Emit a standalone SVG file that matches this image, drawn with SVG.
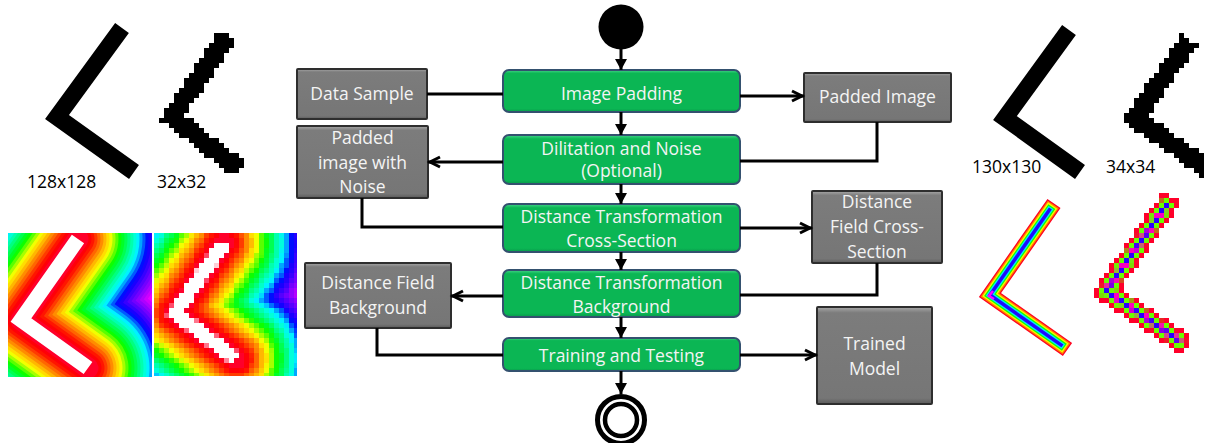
<svg xmlns="http://www.w3.org/2000/svg" xmlns:xlink="http://www.w3.org/1999/xlink" width="1206" height="443" viewBox="0 0 1206 443">
<style>
.lbl{font-family:"Open Sans","Liberation Sans",sans-serif;font-size:17.5px;fill:#000}
.ntxt{font-family:"Open Sans","Liberation Sans",sans-serif;font-size:17.5px;fill:#f4f4f4;text-anchor:middle}
.act{fill:url(#gGreen);stroke:#34516f;stroke-width:2}
.obj{fill:url(#gGray);stroke:#2e2e2e;stroke-width:2}
.conn path{fill:none;stroke:#000;stroke-width:3}
.band{fill:none;stroke-linecap:round;stroke-linejoin:round}
.core{fill:none;stroke-linecap:butt;stroke-linejoin:miter;stroke-miterlimit:10}
</style>
<defs>
  <linearGradient id="gGreen" x1="0" y1="0" x2="0" y2="1">
    <stop offset="0" stop-color="#45d68a"/>
    <stop offset="0.08" stop-color="#0bb654"/>
    <stop offset="0.92" stop-color="#0bb654"/>
    <stop offset="1" stop-color="#07984a"/>
  </linearGradient>
  <linearGradient id="gGray" x1="0" y1="0" x2="0" y2="1">
    <stop offset="0" stop-color="#a9a9a9"/>
    <stop offset="0.06" stop-color="#7c7c7c"/>
    <stop offset="0.94" stop-color="#767676"/>
    <stop offset="1" stop-color="#5a5a5a"/>
  </linearGradient>
  <marker id="tri" markerUnits="userSpaceOnUse" markerWidth="11" markerHeight="12" viewBox="0 0 11 12" refX="11" refY="6" orient="auto">
    <path d="M0,0 L11,6 L0,12 z" fill="#000"/>
  </marker>
  <marker id="vee" markerUnits="userSpaceOnUse" markerWidth="16" markerHeight="16" viewBox="-3 -3 16 16" refX="12" refY="5" orient="auto" overflow="visible">
    <path d="M0,0 L10,5 L0,10" fill="none" stroke="#000" stroke-width="3"/>
  </marker>
  <!-- nearest-neighbour pixelation on a 5px grid, with hard alpha -->
  <filter id="px" filterUnits="userSpaceOnUse" x="0" y="0" width="1206" height="443" color-interpolation-filters="sRGB">
    <feFlood x="1" y="0" width="1" height="1" flood-color="#000" result="dot"/>
    <feComposite in="dot" in2="dot" x="1" y="0" width="5" height="5" result="cell"/>
    <feTile in="cell" result="grid"/>
    <feComposite in="SourceGraphic" in2="grid" operator="in" result="samp"/>
    <feMorphology in="samp" operator="dilate" radius="2" result="blocks"/>
    <feComponentTransfer in="blocks">
      <feFuncA type="discrete" tableValues="0 1"/>
    </feComponentTransfer>
  </filter>
  <clipPath id="clipA"><rect x="8" y="233" width="144" height="144"/></clipPath>
  <clipPath id="clipB"><rect x="154" y="233" width="143" height="143"/></clipPath>
  <polyline id="cA" points="78,239 21,320 88,368"/>
  <polyline id="cB" points="224,243 175,313 236,359"/>
</defs>
<rect width="1206" height="443" fill="#fff"/>

<!-- source shapes -->
<g id="img128">
  <polyline class="core" points="122,28 57,117 134,172" stroke="#000" stroke-width="17"/>
  <text class="lbl" x="27" y="188">128x128</text>
</g>
<g id="img32">
  <g filter="url(#px)">
    <polyline class="core" points="228,35 172,117 240,170" stroke="#000" stroke-width="19"/>
  </g>
  <text class="lbl" x="157" y="188">32x32</text>
</g>
<g id="img130">
  <polyline class="core" points="1069,30 1005,118 1080,172" stroke="#000" stroke-width="17"/>
  <text class="lbl" x="972" y="173">130x130</text>
</g>
<g id="img34">
  <g filter="url(#px)">
    <polyline class="core" points="1189.5,40 1135,118 1212,172" stroke="#000" stroke-width="19"/>
  </g>
  <text class="lbl" x="1106" y="173">34x34</text>
</g>

<!-- background distance field, 128x128 -->
<g id="dfBg128" clip-path="url(#clipA)">
  <g class="band">
    <use xlink:href="#cA" stroke="hsl(302,100%,50%)" stroke-width="320"/>
    <use xlink:href="#cA" stroke="hsl(295,100%,50%)" stroke-width="189"/>
    <use xlink:href="#cA" stroke="hsl(288,100%,50%)" stroke-width="183"/>
    <use xlink:href="#cA" stroke="hsl(281,100%,50%)" stroke-width="177"/>
    <use xlink:href="#cA" stroke="hsl(274,100%,50%)" stroke-width="171"/>
    <use xlink:href="#cA" stroke="hsl(267,100%,50%)" stroke-width="165"/>
    <use xlink:href="#cA" stroke="hsl(260,100%,50%)" stroke-width="159"/>
    <use xlink:href="#cA" stroke="hsl(253,100%,50%)" stroke-width="153"/>
    <use xlink:href="#cA" stroke="hsl(246,100%,50%)" stroke-width="147"/>
    <use xlink:href="#cA" stroke="hsl(237,100%,50%)" stroke-width="141"/>
    <use xlink:href="#cA" stroke="hsl(219,100%,50%)" stroke-width="135"/>
    <use xlink:href="#cA" stroke="hsl(201,100%,50%)" stroke-width="129"/>
    <use xlink:href="#cA" stroke="hsl(183,100%,50%)" stroke-width="123"/>
    <use xlink:href="#cA" stroke="hsl(171,100%,50%)" stroke-width="117"/>
    <use xlink:href="#cA" stroke="hsl(161,100%,50%)" stroke-width="111"/>
    <use xlink:href="#cA" stroke="hsl(150,100%,50%)" stroke-width="105"/>
    <use xlink:href="#cA" stroke="hsl(139,100%,50%)" stroke-width="99"/>
    <use xlink:href="#cA" stroke="hsl(129,100%,50%)" stroke-width="93"/>
    <use xlink:href="#cA" stroke="hsl(117,100%,50%)" stroke-width="87"/>
    <use xlink:href="#cA" stroke="hsl(99,100%,50%)" stroke-width="81"/>
    <use xlink:href="#cA" stroke="hsl(81,100%,50%)" stroke-width="75"/>
    <use xlink:href="#cA" stroke="hsl(63,100%,50%)" stroke-width="69"/>
    <use xlink:href="#cA" stroke="hsl(52,100%,50%)" stroke-width="63"/>
    <use xlink:href="#cA" stroke="hsl(43,100%,50%)" stroke-width="57"/>
    <use xlink:href="#cA" stroke="hsl(33,100%,50%)" stroke-width="51"/>
    <use xlink:href="#cA" stroke="hsl(24,100%,50%)" stroke-width="45"/>
    <use xlink:href="#cA" stroke="hsl(14,100%,50%)" stroke-width="39"/>
    <use xlink:href="#cA" stroke="hsl(5,100%,50%)" stroke-width="33"/>
    <use xlink:href="#cA" stroke="hsl(358,100%,50%)" stroke-width="27"/>
    <use xlink:href="#cA" stroke="hsl(350,100%,50%)" stroke-width="21"/>
  </g>
  <use xlink:href="#cA" class="core" stroke="#fff" stroke-width="15"/>
</g>

<!-- background distance field, 32x32 -->
<g id="dfBg32" clip-path="url(#clipB)" filter="url(#px)">
  <g class="band">
    <use xlink:href="#cB" stroke="hsl(302,100%,50%)" stroke-width="320"/>
    <use xlink:href="#cB" stroke="hsl(295,100%,50%)" stroke-width="188"/>
    <use xlink:href="#cB" stroke="hsl(288,100%,50%)" stroke-width="182"/>
    <use xlink:href="#cB" stroke="hsl(281,100%,50%)" stroke-width="176"/>
    <use xlink:href="#cB" stroke="hsl(274,100%,50%)" stroke-width="170"/>
    <use xlink:href="#cB" stroke="hsl(267,100%,50%)" stroke-width="164"/>
    <use xlink:href="#cB" stroke="hsl(260,100%,50%)" stroke-width="158"/>
    <use xlink:href="#cB" stroke="hsl(253,100%,50%)" stroke-width="152"/>
    <use xlink:href="#cB" stroke="hsl(246,100%,50%)" stroke-width="146"/>
    <use xlink:href="#cB" stroke="hsl(237,100%,50%)" stroke-width="140"/>
    <use xlink:href="#cB" stroke="hsl(219,100%,50%)" stroke-width="134"/>
    <use xlink:href="#cB" stroke="hsl(201,100%,50%)" stroke-width="128"/>
    <use xlink:href="#cB" stroke="hsl(183,100%,50%)" stroke-width="122"/>
    <use xlink:href="#cB" stroke="hsl(171,100%,50%)" stroke-width="116"/>
    <use xlink:href="#cB" stroke="hsl(161,100%,50%)" stroke-width="110"/>
    <use xlink:href="#cB" stroke="hsl(150,100%,50%)" stroke-width="104"/>
    <use xlink:href="#cB" stroke="hsl(139,100%,50%)" stroke-width="98"/>
    <use xlink:href="#cB" stroke="hsl(129,100%,50%)" stroke-width="92"/>
    <use xlink:href="#cB" stroke="hsl(117,100%,50%)" stroke-width="86"/>
    <use xlink:href="#cB" stroke="hsl(99,100%,50%)" stroke-width="80"/>
    <use xlink:href="#cB" stroke="hsl(81,100%,50%)" stroke-width="74"/>
    <use xlink:href="#cB" stroke="hsl(63,100%,50%)" stroke-width="68"/>
    <use xlink:href="#cB" stroke="hsl(52,100%,50%)" stroke-width="62"/>
    <use xlink:href="#cB" stroke="hsl(43,100%,50%)" stroke-width="56"/>
    <use xlink:href="#cB" stroke="hsl(33,100%,50%)" stroke-width="50"/>
    <use xlink:href="#cB" stroke="hsl(24,100%,50%)" stroke-width="44"/>
    <use xlink:href="#cB" stroke="hsl(14,100%,50%)" stroke-width="38"/>
    <use xlink:href="#cB" stroke="hsl(5,100%,50%)" stroke-width="32"/>
    <use xlink:href="#cB" stroke="hsl(358,100%,50%)" stroke-width="26"/>
    <use xlink:href="#cB" stroke="hsl(350,100%,50%)" stroke-width="20"/>
  </g>
  <use xlink:href="#cB" class="core" stroke="#fff" stroke-width="14"/>
</g>

<!-- cross-section distance field, 130x130 -->
<g id="dfCs130" class="core">
  <polyline points="1054,203.5 990,295 1067.5,349.5" stroke="hsl(352,100%,50%)" stroke-width="16"/>
  <polyline points="1053.3,204.5 990,295 1066.5,348.8" stroke="hsl(30,100%,50%)" stroke-width="13.5"/>
  <polyline points="1052.6,205.5 990,295 1065.5,348.1" stroke="hsl(58,100%,50%)" stroke-width="11"/>
  <polyline points="1051.9,206.6 990,295 1064.4,347.3" stroke="hsl(115,100%,50%)" stroke-width="8.5"/>
  <polyline points="1051.1,207.6 990,295 1063.4,346.6" stroke="hsl(185,100%,50%)" stroke-width="6"/>
  <polyline points="1050.4,208.6 990,295 1062.4,345.9" stroke="hsl(245,100%,52%)" stroke-width="3.5"/>
  <polyline points="993,291 989,296 994,299" stroke="hsl(300,100%,50%)" stroke-width="2.5"/>
</g>

<!-- cross-section distance field, 34x34 -->
<g id="dfCs34" class="core" filter="url(#px)">
  <polyline points="1172,197 1106,291 1187,346" stroke="hsl(350,100%,50%)" stroke-width="21"/>
  <polyline points="1169.7,200.3 1106,291 1183.7,343.8" stroke="hsl(95,100%,50%)" stroke-width="13"/>
  <polyline points="1167.7,203.1 1106,291 1180.8,341.8" stroke="hsl(315,100%,50%)" stroke-width="6"/>
  <polyline points="1166.8,204.4 1106,291 1179.6,340.9" stroke="hsl(250,100%,50%)" stroke-width="3"/>
</g>

<!-- activity nodes -->
<g id="start"><circle cx="621" cy="27" r="22.5" fill="#000"/></g>
<g id="imagePadding">
  <rect class="act" x="503" y="70" width="237" height="42" rx="6"/>
  <text class="ntxt" x="621.5" y="100">Image Padding</text>
</g>
<g id="dilitation">
  <rect class="act" x="503" y="135" width="237" height="49" rx="6"/>
  <text class="ntxt" x="621.5" y="155">Dilitation and Noise</text>
  <text class="ntxt" x="621.5" y="177">(Optional)</text>
</g>
<g id="dtCrossSection">
  <rect class="act" x="503" y="204" width="237" height="48" rx="6"/>
  <text class="ntxt" x="621.5" y="223">Distance Transformation</text>
  <text class="ntxt" x="621.5" y="247">Cross-Section</text>
</g>
<g id="dtBackground">
  <rect class="act" x="503" y="270" width="237" height="47" rx="6"/>
  <text class="ntxt" x="621.5" y="289">Distance Transformation</text>
  <text class="ntxt" x="621.5" y="313">Background</text>
</g>
<g id="training">
  <rect class="act" x="503" y="338" width="237" height="33" rx="6"/>
  <text class="ntxt" x="621.5" y="362">Training and Testing</text>
</g>
<g id="end">
  <circle cx="621" cy="420" r="23.5" fill="#fff" stroke="#000" stroke-width="5"/>
  <circle cx="621" cy="420" r="16" fill="none" stroke="#000" stroke-width="4.5"/>
</g>

<!-- object nodes -->
<g id="dataSample">
  <rect class="obj" x="297" y="69" width="130" height="50" rx="1"/>
  <text class="ntxt" x="362" y="100">Data Sample</text>
</g>
<g id="paddedNoise">
  <rect class="obj" x="297" y="126" width="131" height="72" rx="1"/>
  <text class="ntxt" x="362.5" y="144">Padded</text>
  <text class="ntxt" x="362.5" y="169">image with</text>
  <text class="ntxt" x="362.5" y="193">Noise</text>
</g>
<g id="paddedImage">
  <rect class="obj" x="804" y="73" width="147" height="49" rx="1"/>
  <text class="ntxt" x="877.5" y="103">Padded Image</text>
</g>
<g id="dfCrossSection">
  <rect class="obj" x="812" y="191" width="130" height="72" rx="1"/>
  <text class="ntxt" x="877" y="208">Distance</text>
  <text class="ntxt" x="877" y="233">Field Cross-</text>
  <text class="ntxt" x="877" y="258">Section</text>
</g>
<g id="dfBackground">
  <rect class="obj" x="305" y="263" width="146" height="65" rx="1"/>
  <text class="ntxt" x="378" y="289">Distance Field</text>
  <text class="ntxt" x="378" y="314">Background</text>
</g>
<g id="trainedModel">
  <rect class="obj" x="817" y="307" width="115" height="97" rx="1"/>
  <text class="ntxt" x="874.5" y="350">Trained</text>
  <text class="ntxt" x="874.5" y="375">Model</text>
</g>

<!-- connectors -->
<g id="connectors" class="conn">
  <path d="M621,49 V70" marker-end="url(#tri)"/>
  <path d="M621,112 V135" marker-end="url(#tri)"/>
  <path d="M621,184 V204" marker-end="url(#tri)"/>
  <path d="M621,252 V270" marker-end="url(#tri)"/>
  <path d="M621,317 V338" marker-end="url(#tri)"/>
  <path d="M621,371 V394" marker-end="url(#tri)"/>
  <path d="M427,94 H503"/>
  <path d="M740,96 H804" marker-end="url(#vee)"/>
  <path d="M877,122 V161 H740"/>
  <path d="M503,162 H428" marker-end="url(#vee)"/>
  <path d="M362,198 V227 H503"/>
  <path d="M740,228 H812" marker-end="url(#vee)"/>
  <path d="M877,263 V295 H740"/>
  <path d="M503,296 H451" marker-end="url(#vee)"/>
  <path d="M377,328 V355 H503"/>
  <path d="M740,355 H817" marker-end="url(#vee)"/>
</g>
</svg>
